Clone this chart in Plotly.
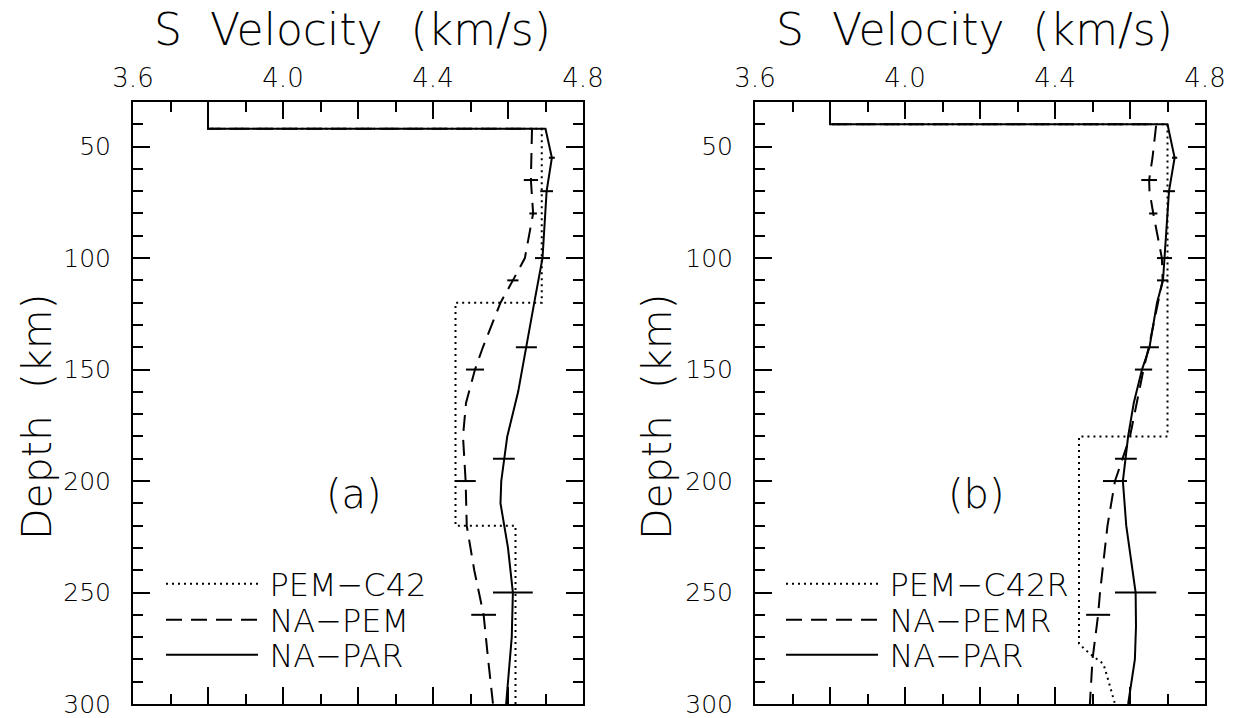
import plotly.graph_objects as go

# ---------------- Panel (a) data ----------------
a_pem_depth = [30, 42, 42, 120, 120, 220, 220, 300]
a_pem_vs = [3.8, 3.8, 4.69, 4.69, 4.46, 4.46, 4.62, 4.62]

a_napem_depth = [30, 42, 42, 55, 65, 80, 100, 110, 120, 140, 150, 165, 180, 200, 220, 240, 260, 280, 300]
a_napem_vs = [3.8, 3.8, 4.664, 4.662, 4.661, 4.667, 4.645, 4.613, 4.58, 4.533, 4.512, 4.488, 4.48, 4.487, 4.49, 4.51, 4.535, 4.547, 4.56]

a_napar_depth = [30, 42, 42, 55, 70, 100, 120, 140, 160, 180, 190, 200, 210, 230, 250, 270, 290, 300]
a_napar_vs = [3.8, 3.8, 4.70, 4.717, 4.703, 4.692, 4.67, 4.649, 4.627, 4.598, 4.589, 4.582, 4.58, 4.60, 4.613, 4.61, 4.60, 4.595]

a_napem_err_depth = [65, 80, 110, 150, 200, 260]
a_napem_err_vs = [4.661, 4.667, 4.613, 4.512, 4.487, 4.535]
a_napem_err = [0.019, 0.010, 0.015, 0.024, 0.027, 0.033]

a_napar_err_depth = [55, 70, 100, 140, 190, 250]
a_napar_err_vs = [4.717, 4.703, 4.692, 4.649, 4.589, 4.613]
a_napar_err = [0.008, 0.017, 0.020, 0.028, 0.029, 0.053]

# ---------------- Panel (b) data ----------------
b_pem_depth = [30, 40, 40, 180, 180, 273, 277.5, 282, 287, 300]
b_pem_vs = [3.8, 3.8, 4.70, 4.70, 4.464, 4.464, 4.493, 4.529, 4.538, 4.56]

b_napem_depth = [30, 40, 40, 45, 55, 65, 70, 80, 93, 100, 110, 120, 140, 150, 180, 200, 220, 250, 260, 280, 300]
b_napem_vs = [3.8, 3.8, 4.67, 4.667, 4.66, 4.651, 4.652, 4.662, 4.677, 4.685, 4.687, 4.675, 4.65, 4.636, 4.60, 4.56, 4.54, 4.52, 4.515, 4.50, 4.493]

b_napar_depth = [30, 40, 40, 55, 70, 100, 110, 120, 140, 150, 165, 180, 190, 200, 220, 250, 265, 280, 300]
b_napar_vs = [3.8, 3.8, 4.70, 4.719, 4.704, 4.692, 4.688, 4.672, 4.652, 4.632, 4.61, 4.595, 4.589, 4.581, 4.59, 4.615, 4.616, 4.613, 4.595]

b_napem_err_depth = [65, 80, 110, 150, 200, 260]
b_napem_err_vs = [4.651, 4.662, 4.687, 4.636, 4.56, 4.515]
b_napem_err = [0.021, 0.011, 0.015, 0.023, 0.032, 0.032]

b_napar_err_depth = [55, 70, 100, 140, 190, 250]
b_napar_err_vs = [4.719, 4.704, 4.692, 4.652, 4.589, 4.615]
b_napar_err = [0.007, 0.016, 0.020, 0.025, 0.029, 0.055]

x_tickvals = [3.6, 3.8, 4.0, 4.2, 4.4, 4.6, 4.8]
x_ticktext = ["3.6", "", "4.0", "", "4.4", "", "4.8"]

a_names = ["PEM\u2212C42", "NA\u2212PEM", "NA\u2212PAR"]
b_names = ["PEM\u2212C42R", "NA\u2212PEMR", "NA\u2212PAR"]

FONT = "DejaVu Sans"
W, H = 1238, 718
NBSP2 = "\u00a0 "

def fnt(size):
    return dict(family=FONT, size=size, color="black", weight=300)

fig = go.Figure()

def add_panel(xa, ya, legs, names, pem, napem, napar, pem_err, par_err):
    styles = ["2px,4px", "16px,9px", "solid"]
    for (d, v), nm, st, lg in zip((pem, napem, napar), names, styles, legs):
        fig.add_trace(go.Scatter(x=v, y=d, mode="lines", name="\u2009" + nm,
                                 line=dict(color="black", width=2, dash=st),
                                 xaxis=xa, yaxis=ya, legend=lg))
    for d, v, e in (pem_err, par_err):
        fig.add_trace(go.Scatter(x=v, y=d, mode="markers",
                                 marker=dict(size=1, color="rgba(0,0,0,0)"),
                                 error_x=dict(type="data", array=e, width=0, thickness=2, color="black"),
                                 showlegend=False, hoverinfo="skip",
                                 xaxis=xa, yaxis=ya))

add_panel("x", "y", ["legend", "legend2", "legend3"], a_names,
          (a_pem_depth, a_pem_vs), (a_napem_depth, a_napem_vs), (a_napar_depth, a_napar_vs),
          (a_napem_err_depth, a_napem_err_vs, a_napem_err),
          (a_napar_err_depth, a_napar_err_vs, a_napar_err))
add_panel("x2", "y2", ["legend4", "legend5", "legend6"], b_names,
          (b_pem_depth, b_pem_vs), (b_napem_depth, b_napem_vs), (b_napar_depth, b_napar_vs),
          (b_napem_err_depth, b_napem_err_vs, b_napem_err),
          (b_napar_err_depth, b_napar_err_vs, b_napar_err))

ydom = [1 - 704 / H, 1 - 102 / H]

def xaxis(dom, anchor):
    return dict(domain=dom, anchor=anchor, side="top", range=[3.6, 4.8],
                tickmode="array", tickvals=x_tickvals, ticktext=x_ticktext,
                ticks="inside", ticklen=17, tickwidth=2, tickcolor="black",
                minor=dict(dtick=0.1, tick0=3.6, ticks="inside", ticklen=10, tickwidth=2, tickcolor="black"),
                showline=True, linewidth=2, linecolor="black", mirror="allticks",
                showgrid=False, zeroline=False, ticklabelstandoff=3, automargin=False,
                ticklabeloverflow="allow",
                tickfont=fnt(26), fixedrange=True)

def yaxis(anchor):
    return dict(domain=ydom, anchor=anchor, range=[300, 30],
                tickmode="linear", tick0=0, dtick=50,
                ticks="inside", ticklen=17, tickwidth=2, tickcolor="black",
                minor=dict(dtick=10, tick0=0, ticks="inside", ticklen=10, tickwidth=2, tickcolor="black"),
                showline=True, linewidth=2, linecolor="black", mirror="allticks",
                showgrid=False, zeroline=False, ticklabelstandoff=15, automargin=False,
                ticklabeloverflow="allow",
                tickfont=fnt(25), fixedrange=True)

legend_common = dict(bgcolor="rgba(0,0,0,0)", borderwidth=0, xanchor="left", yanchor="middle",
                     font=fnt(32), itemwidth=92)

row_y = [584, 620, 655]
legends = {}
for i, ry in enumerate(row_y):
    legends["legend" if i == 0 else "legend%d" % (i + 1)] = dict(x=161 / W, y=1 - ry / H, **legend_common)
    legends["legend%d" % (i + 4)] = dict(x=781 / W, y=1 - ry / H, **legend_common)

def title_ann(x):
    return dict(text="S" + NBSP2 + "Velocity" + NBSP2 + "(km/s)", x=x / W, y=1 - 29 / H,
                xref="paper", yref="paper", showarrow=False, xanchor="center", yanchor="middle",
                font=fnt(44))

def ytitle_ann(x):
    return dict(text="Depth" + NBSP2 + "(km)", x=x / W, y=1 - 417 / H, xref="paper", yref="paper",
                showarrow=False, xanchor="center", yanchor="middle", textangle=-90,
                font=fnt(41))

fig.update_layout(
    width=W, height=H,
    margin=dict(l=0, r=0, t=0, b=0, autoexpand=False),
    paper_bgcolor="white", plot_bgcolor="white",
    font=dict(family=FONT, color="black"),
    xaxis=xaxis([133 / W, 583 / W], "y"),
    yaxis=yaxis("x"),
    xaxis2=xaxis([755 / W, 1205 / W], "y2"),
    yaxis2=yaxis("x2"),
    annotations=[
        title_ann(352), title_ann(974),
        ytitle_ann(37), ytitle_ann(657),
        dict(text="(a)", x=4.19, y=206, xref="x", yref="y", showarrow=False, font=fnt(40)),
        dict(text="(b)", x=4.19, y=206, xref="x2", yref="y2", showarrow=False, font=fnt(40)),
    ],
    **legends,
)

fig.write_html("out.html", config={"displayModeBar": False},
               post_script="document.body.style.margin='0';document.body.style.overflow='hidden';")
